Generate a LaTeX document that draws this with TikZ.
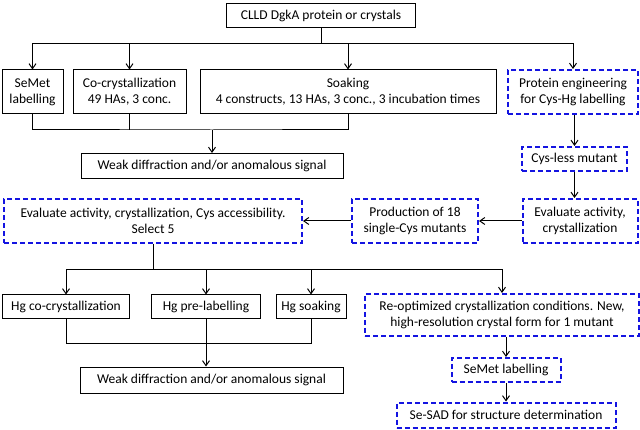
\documentclass[tikz,border=0pt]{standalone}
\usepackage{fontspec}
\setmainfont{Carlito}
\usetikzlibrary{arrows.meta,positioning}
\definecolor{dashblue}{RGB}{20,20,225}
\begin{document}
\begin{tikzpicture}[
  x=1pt, y=-1pt,
  box/.style={draw, line width=1pt, align=center, inner sep=0pt, font=\fontsize{13.5}{16}\selectfont},
  dbox/.style={box, draw=dashblue, line width=2pt, dash pattern=on 5pt off 3pt},
  arrow/.style={-{Straight Barb[length=5pt,width=7pt]}, line width=1pt},
  line/.style={line width=1pt}
]
\useasboundingbox (0,0) rectangle (640,430);

% Nodes
\node[box, minimum width=189, minimum height=24] (start) at (321,16) {CLLD DgkA protein or crystals};
\node[box, minimum width=61, minimum height=44] (semet) at (32.5,92) {SeMet\\labelling};
\node[box, minimum width=113, minimum height=44] (cocryst) at (129.5,92) {Co-crystallization\\49 HAs, 3 conc.};
\node[box, minimum width=296, minimum height=44] (soak) at (348,92) {Soaking\\4 constructs, 13 HAs, 3 conc., 3 incubation times};
\node[dbox, minimum width=130, minimum height=44] (engineer) at (573,92) {Protein engineering\\for Cys-Hg labelling};
\node[box, minimum width=262, minimum height=25] (weak) at (212,166) {Weak diffraction and/or anomalous signal};
\node[dbox, minimum width=105, minimum height=24] (cysless) at (574.5,159) {Cys-less mutant};
\node[dbox, minimum width=115, minimum height=44] (evalright) at (580,221) {Evaluate activity,\\crystallization};
\node[dbox, minimum width=126, minimum height=44] (production) at (415,221) {Production of 18\\single-Cys mutants};
\node[dbox, minimum width=298, minimum height=44] (evalleft) at (153,221) {Evaluate activity, crystallization, Cys accessibility.\\Select 5};
\node[box, minimum width=127, minimum height=24] (hgco) at (66,307) {Hg co-crystallization};
\node[box, minimum width=109, minimum height=24] (hgpre) at (206,307) {Hg pre-labelling};
\node[box, minimum width=70, minimum height=24] (hgsoak) at (311,307) {Hg soaking};
\node[dbox, minimum width=274, minimum height=42] (reopt) at (502,315) {Re-optimized crystallization conditions. New,\\high-resolution crystal form for 1 mutant};
\node[box, minimum width=263, minimum height=26] (weakhg) at (211.5,380) {Weak diffraction and/or anomalous signal};
\node[dbox, minimum width=109, minimum height=24] (semetlab) at (506,370) {SeMet labelling};
\node[dbox, minimum width=219, minimum height=25] (sesad) at (506,415) {Se-SAD for structure determination};

% Bus coordinates
\coordinate (bus1) at (0,44);
\coordinate (merge1) at (0,130);
\coordinate (bus2) at (0,270);
\coordinate (merge2) at (0,344);

% Arrows
\draw[line] (start.south) -- (start.south |- bus1);
\draw[arrow] (start.south |- bus1) -| (semet.north);
\draw[arrow] (start.south |- bus1) -| (cocryst.north);
\draw[arrow] (start.south |- bus1) -| (soak.north);
\draw[arrow] (start.south |- bus1) -| (engineer.north);
\draw[line] (semet.south) |- (weak.north |- merge1) -| (soak.south);
\draw[line] (cocryst.south) -- (cocryst.south |- merge1);
\draw[arrow] (weak.north |- merge1) -- (weak.north);
\draw[arrow] (engineer.south -| cysless) -- (cysless.north);
\draw[arrow] (cysless.south) -- (cysless.south |- evalright.north);
\draw[arrow] (evalright) -- (production);
\draw[arrow] (production) -- (evalleft);
\draw[line] (evalleft.south) -- (evalleft.south |- bus2);
\draw[arrow] (evalleft.south |- bus2) -| (hgco.north);
\draw[arrow] (evalleft.south |- bus2) -| (hgpre.north);
\draw[arrow] (evalleft.south |- bus2) -| (hgsoak.north);
\draw[arrow] (evalleft.south |- bus2) -| (reopt.north);
\draw[line] (hgco.south) |- (hgsoak.south |- merge2) -- (hgsoak.south);
\draw[arrow] (hgpre.south) -- (hgpre.south |- weakhg.north);
\draw[arrow] (reopt.south -| semetlab) -- (semetlab.north);
\draw[arrow] (semetlab.south) -- (sesad.north);

\end{tikzpicture}
\end{document}
